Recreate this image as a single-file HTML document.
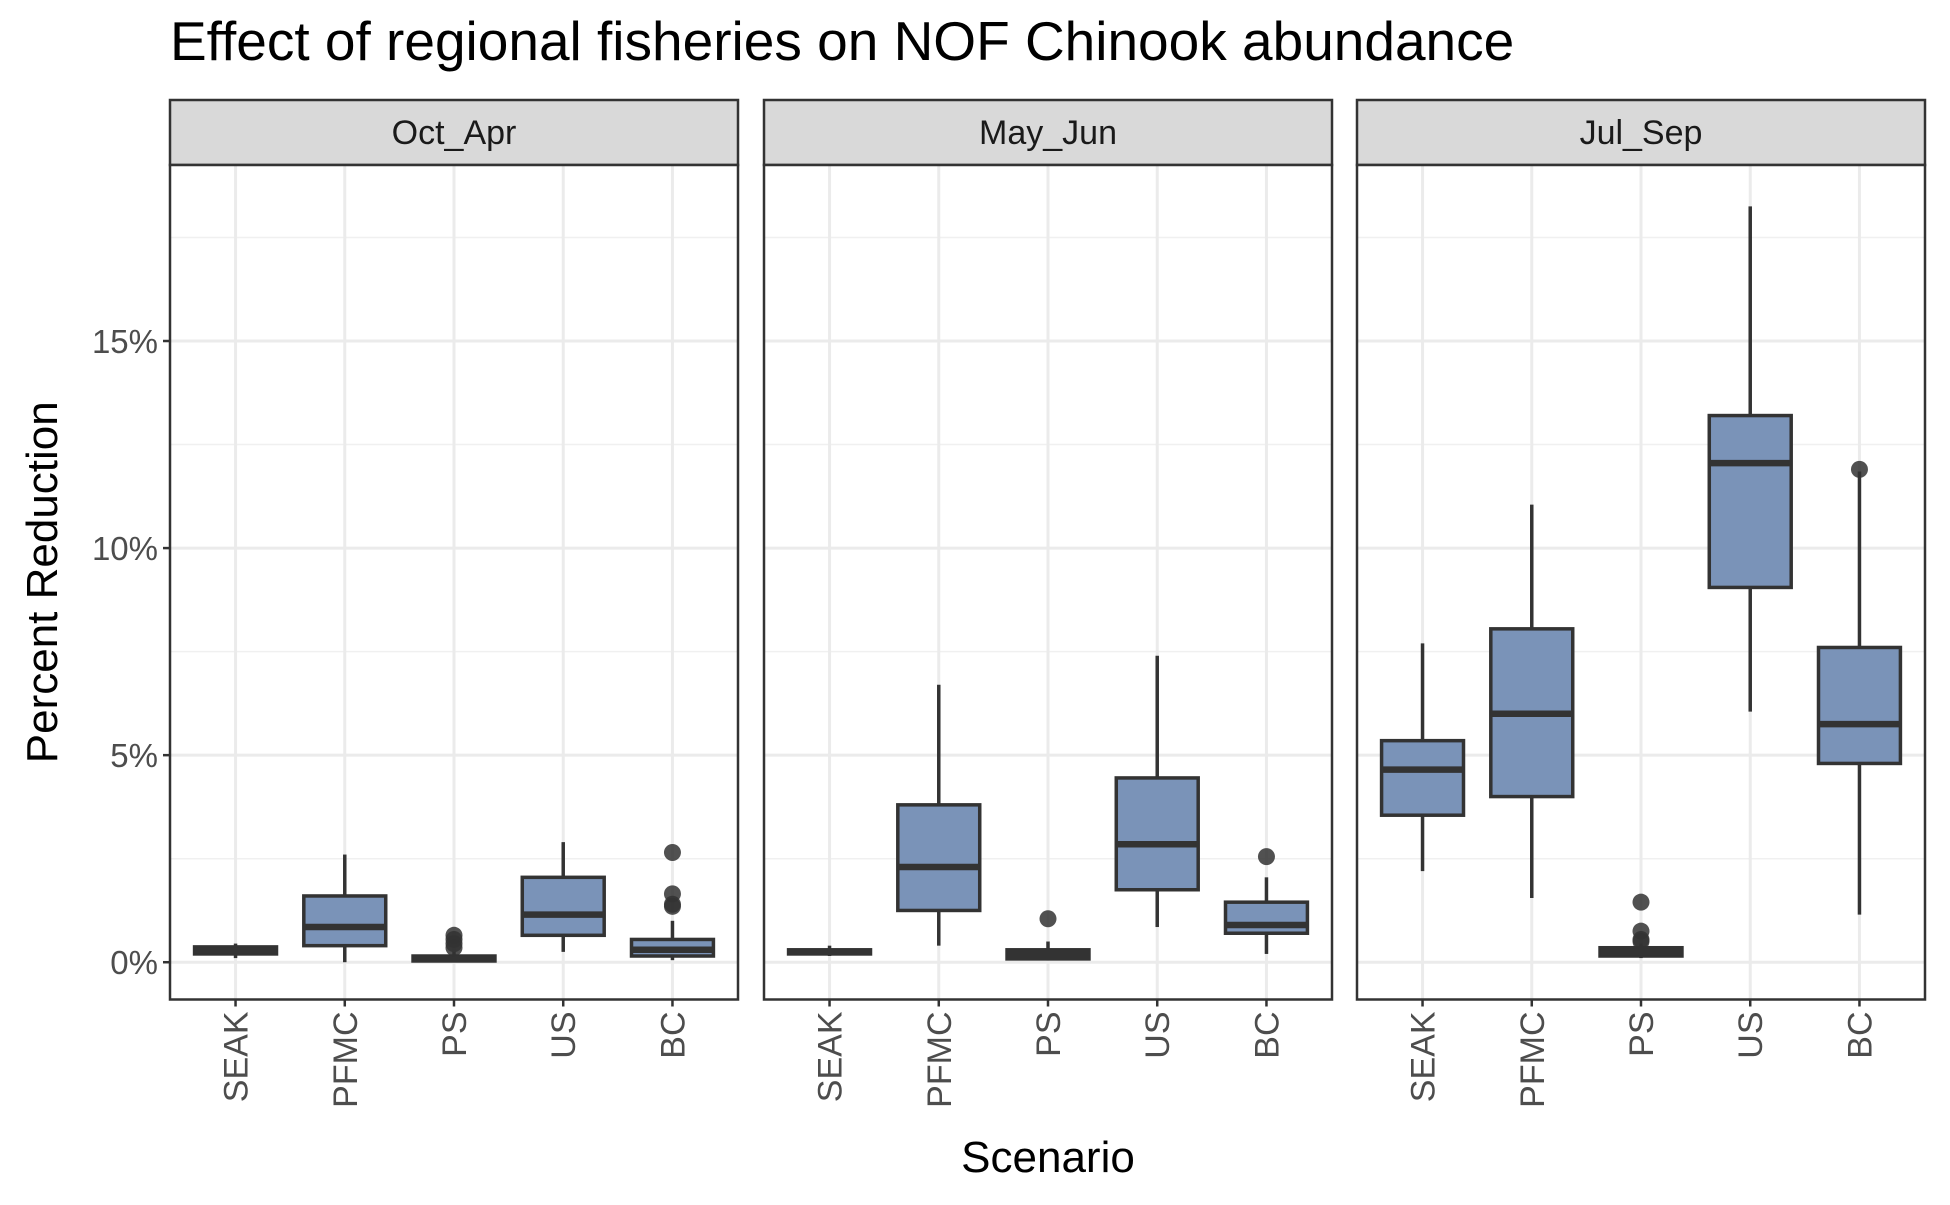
<!DOCTYPE html>
<html><head><meta charset="utf-8"><style>
html,body{margin:0;padding:0;background:#fff}
svg text{font-family:"Liberation Sans",Arial,sans-serif}
</style></head><body>
<svg id="chart" width="1950" height="1200" xmlns="http://www.w3.org/2000/svg"></svg>
<script>
const panels = ["Oct_Apr","May_Jun","Jul_Sep"];
const categories = ["SEAK","PFMC","PS","US","BC"];
const yTicks = [0,5,10,15];
const yTickLabels = ["0%","5%","10%","15%"];
// [lo, q1, median, q3, hi] per panel per category
const statsOctApr = [[0.1,0.2,0.28,0.37,0.45],[0,0.4,0.85,1.6,2.6],[0,0.03,0.08,0.15,0.25],[0.25,0.65,1.15,2.05,2.9],[0.05,0.15,0.3,0.55,1.0]];
const statsMayJun = [[0.15,0.2,0.25,0.3,0.4],[0.4,1.25,2.3,3.8,6.7],[0.05,0.08,0.18,0.3,0.5],[0.85,1.75,2.85,4.45,7.4],[0.2,0.7,0.9,1.45,2.05]];
const statsJulSep = [[2.2,3.55,4.65,5.35,7.7],[1.55,4.0,6.0,8.05,11.05],[0.1,0.15,0.25,0.35,0.45],[6.05,9.05,12.05,13.2,18.25],[1.15,4.8,5.75,7.6,11.85]];
const outliersOctApr = [[],[],[0.35,0.45,0.55,0.65],[],[1.35,1.4,1.65,2.65]];
const outliersMayJun = [[],[],[1.05],[],[2.55]];
const outliersJulSep = [[],[],[0.5,0.55,0.75,1.45],[],[11.9]];
const allStats=[statsOctApr,statsMayJun,statsJulSep];
const allOut=[outliersOctApr,outliersMayJun,outliersJulSep];

const svg=document.getElementById('chart');
const NS="http://www.w3.org/2000/svg";
function mk(tag,attrs,parent){const e=document.createElementNS(NS,tag);for(const k in attrs)e.setAttribute(k,attrs[k]);(parent||svg).appendChild(e);return e;}
const panelX=[170,764,1357], panelW=568, plotTop=165, plotBot=999.5, stripTop=100;
const yMin=-0.9, yMax=19.25;
function y(v){return plotBot-(v-yMin)/(yMax-yMin)*(plotBot-plotTop);}
function xc(p,i){const step=panelW/(categories.length-1+1.2);return panelX[p]+step*(0.6+i);}

let t=mk('text',{x:170,y:60,'font-size':55,fill:'#000'});

t.textContent="Effect of regional fisheries on NOF Chinook abundance";

panels.forEach((pn,p)=>{
  const g=mk('g',{});
  
  
  const x0=panelX[p];
  mk('rect',{x:x0,y:stripTop,width:panelW,height:plotTop-stripTop,fill:'#d9d9d9',stroke:'#333','stroke-width':2.5},g);
  const st=mk('text',{x:x0+panelW/2,y:144,'font-size':34,fill:'#1a1a1a','text-anchor':'middle'},g);
  
  st.textContent=pn;
  mk('rect',{x:x0,y:plotTop,width:panelW,height:plotBot-plotTop,fill:'#fff'},g);
  for(let m=2.5;m<yMax;m+=5) mk('line',{x1:x0,x2:x0+panelW,y1:y(m),y2:y(m),stroke:'#f0f0f0','stroke-width':1.5},g);
  yTicks.forEach(v=>mk('line',{x1:x0,x2:x0+panelW,y1:y(v),y2:y(v),stroke:'#ebebeb','stroke-width':3},g));
  categories.forEach((c,i)=>mk('line',{x1:xc(p,i),x2:xc(p,i),y1:plotTop,y2:plotBot,stroke:'#ebebeb','stroke-width':3},g));
  const bw=panelW/(categories.length+0.2)*0.75;
  categories.forEach((c,i)=>{
    const s=allStats[p][i], cx=xc(p,i);
    const b=mk('g',{},g);
    
    
    mk('line',{x1:cx,x2:cx,y1:y(s[0]),y2:y(s[1]),stroke:'#333','stroke-width':3.5},b);
    mk('line',{x1:cx,x2:cx,y1:y(s[3]),y2:y(s[4]),stroke:'#333','stroke-width':3.5},b);
    mk('rect',{x:cx-bw/2,y:y(s[3]),width:bw,height:Math.max(1,y(s[1])-y(s[3])),fill:'#7a93b8',stroke:'#333','stroke-width':3.5},b);
    mk('line',{x1:cx-bw/2,x2:cx+bw/2,y1:y(s[2]),y2:y(s[2]),stroke:'#333','stroke-width':6.5},b);
    allOut[p][i].forEach(o=>{
      const d=mk('circle',{cx:cx,cy:y(o),r:8.5,fill:'#333','fill-opacity':0.85},b);
      
    });
    mk('line',{x1:cx,x2:cx,y1:plotBot,y2:plotBot+7,stroke:'#333','stroke-width':2.5},g);
    const xl=mk('text',{x:0,y:0,'font-size':34,fill:'#4d4d4d','text-anchor':'end',transform:`translate(${cx+12},${plotBot+12}) rotate(-90)`},g);
    
    xl.textContent=c;
  });
  mk('rect',{x:x0,y:plotTop,width:panelW,height:plotBot-plotTop,fill:'none',stroke:'#333','stroke-width':2.5},g);
  if(p===0){
    yTicks.forEach((v,k)=>{
      mk('line',{x1:x0-7,x2:x0,y1:y(v),y2:y(v),stroke:'#333','stroke-width':2.5},g);
      const yl=mk('text',{x:x0-12,y:y(v)+12,'font-size':33,fill:'#4d4d4d','text-anchor':'end'},g);
      
      yl.textContent=yTickLabels[k];
    });
  }
});
let yt=mk('text',{x:0,y:0,'font-size':44,fill:'#000','text-anchor':'middle',transform:`translate(57,${(plotTop+plotBot)/2}) rotate(-90)`});

yt.textContent="Percent Reduction";
let xt=mk('text',{x:1048,y:1172,'font-size':44,fill:'#000','text-anchor':'middle'});

xt.textContent="Scenario";
</script>
</body></html>
